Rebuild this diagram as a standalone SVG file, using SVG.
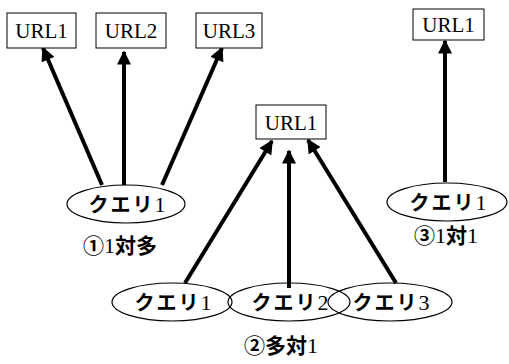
<svg xmlns="http://www.w3.org/2000/svg" width="509" height="364" viewBox="0 0 509 364">
<style>
.box{fill:#fff;stroke:#000;stroke-width:1}
.ell{fill:none;stroke:#000;stroke-width:1.2}
.url{font-family:"Liberation Serif",serif;font-size:21px;text-anchor:middle;fill:#000}
.jp{font-family:"Liberation Serif","Noto Sans CJK JP",sans-serif;font-size:20px;font-weight:bold;text-anchor:middle;fill:#000;letter-spacing:2px}
.lbl{font-family:"Liberation Serif","Noto Sans CJK JP",sans-serif;font-size:21px;font-weight:bold;text-anchor:middle;fill:#000}
.d{font-weight:normal;font-size:22px}
.arr{stroke:#000;stroke-width:4;fill:none;marker-end:url(#ah)}
</style>
<defs>
<marker id="ah" viewBox="0 0 10 10" refX="9" refY="5" markerUnits="userSpaceOnUse" markerWidth="15" markerHeight="14" orient="auto">
<path d="M0,0 L10,5 L0,10 z" fill="#000"/>
</marker>
</defs>
<rect width="509" height="364" fill="#fff"/>
<g id="connectors">
<line class="arr" x1="102" y1="185" x2="43" y2="48"/>
<line class="arr" x1="124" y1="185" x2="124" y2="52"/>
<line class="arr" x1="162" y1="185" x2="222" y2="48"/>
<line class="arr" x1="185" y1="283" x2="272" y2="141"/>
<line class="arr" x1="289" y1="288" x2="289" y2="151"/>
<line class="arr" x1="396" y1="283" x2="308" y2="140"/>
<line class="arr" x1="445" y1="182" x2="445" y2="41"/>
</g>
<g id="url1-a"><rect class="box" x="7" y="13" width="69" height="35"/><text class="url" x="41.5" y="38">URL1</text></g>
<g id="url2-a"><rect class="box" x="96" y="13" width="70" height="35"/><text class="url" x="131" y="38">URL2</text></g>
<g id="url3-a"><rect class="box" x="196" y="13" width="66" height="35"/><text class="url" x="229" y="38">URL3</text></g>
<g id="query1-a"><ellipse class="ell" cx="126" cy="204" rx="59" ry="19"/><text class="jp" x="128" y="212">クエリ<tspan class="d">1</tspan></text></g>
<g id="label-a"><text class="lbl" x="120" y="253">①<tspan class="d">1</tspan>対多</text></g>
<g id="url1-b"><rect class="box" x="256" y="105" width="70" height="34"/><text class="url" x="291" y="130">URL1</text></g>
<g id="query1-b"><ellipse class="ell" cx="172" cy="302" rx="60" ry="19"/><text class="jp" x="174" y="310">クエリ<tspan class="d">1</tspan></text></g>
<g id="query2-b"><ellipse class="ell" cx="289" cy="302" rx="61" ry="19"/><text class="jp" x="291" y="310">クエリ<tspan class="d">2</tspan></text></g>
<g id="query3-b"><ellipse class="ell" cx="390" cy="302" rx="62" ry="19"/><text class="jp" x="392" y="310">クエリ<tspan class="d">3</tspan></text></g>
<g id="label-b"><text class="lbl" x="281" y="353">②多対<tspan class="d">1</tspan></text></g>
<g id="url1-c"><rect class="box" x="413" y="9" width="71" height="31"/><text class="url" x="448.5" y="32">URL1</text></g>
<g id="query1-c"><ellipse class="ell" cx="447" cy="202" rx="60" ry="19"/><text class="jp" x="449" y="210">クエリ<tspan class="d">1</tspan></text></g>
<g id="label-c"><text class="lbl" x="446" y="243">③<tspan class="d">1</tspan>対<tspan class="d">1</tspan></text></g>
</svg>
